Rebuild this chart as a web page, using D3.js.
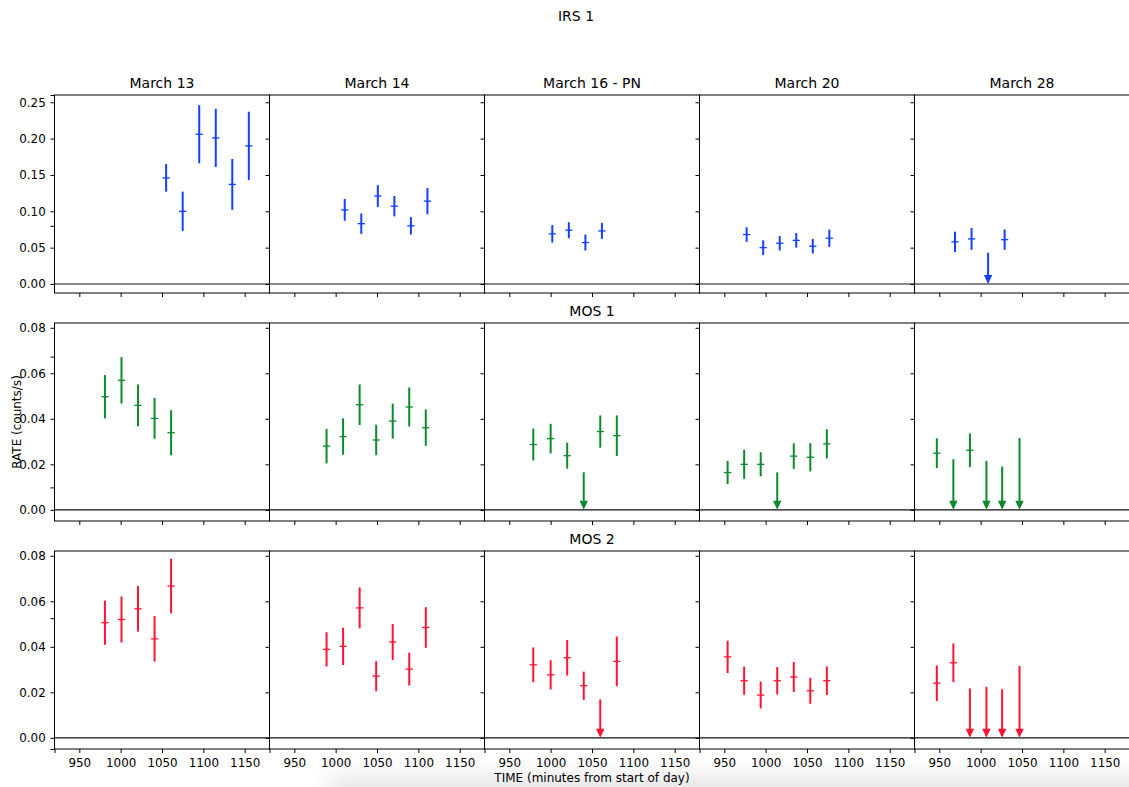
<!DOCTYPE html>
<html>
<head>
<meta charset="utf-8">
<script src="https://cdn.jsdelivr.net/npm/d3@7"></script>
<style>
  body { margin: 0; background: #fff; }
  svg text { font-family: "DejaVu Sans", sans-serif; fill: #000; }
</style>
</head>
<body>
<svg id="chart" width="1129" height="787"></svg>
<script>
// Observation dates (columns) and instruments (rows)
const dates = ["March 13", "March 14", "March 16 - PN", "March 20", "March 28"];
const instruments = ["IRS 1", "MOS 1", "MOS 2"];
const instrumentColors = ["#1440ff", "#0c8a2c", "#ff1436"];

// Axis ticks
const timeTicks = [950, 1000, 1050, 1100, 1150];
const pnRateTicks = [0, 0.05, 0.10, 0.15, 0.20, 0.25];
const mosRateTicks = [0, 0.02, 0.04, 0.06, 0.08];
const timeDomain = [920, 1180];
const pnRateDomain = [-0.0124, 0.2600];
const mosRateDomain = [-0.0049, 0.0821];
const timeHalfWidth = 4.4; // minutes, horizontal bar half-length

// EPIC-pn light curve (counts/s), one array per date
const pnTime = [
  [1055, 1075, 1095, 1115, 1135, 1155],
  [1011, 1031, 1051, 1071, 1091, 1111],
  [1002, 1022, 1042, 1062],
  [977, 997, 1017, 1037, 1057, 1077],
  [969, 989, 1029]
];
const pnRate = [
  [0.146, 0.100, 0.206, 0.201, 0.137, 0.190],
  [0.102, 0.083, 0.121, 0.107, 0.080, 0.114],
  [0.069, 0.074, 0.057, 0.073],
  [0.068, 0.050, 0.056, 0.060, 0.052, 0.063],
  [0.058, 0.062, 0.061]
];
const pnErr = [
  [0.019, 0.027, 0.040, 0.040, 0.035, 0.047],
  [0.015, 0.014, 0.015, 0.014, 0.012, 0.018],
  [0.012, 0.011, 0.011, 0.011],
  [0.010, 0.010, 0.010, 0.010, 0.010, 0.012],
  [0.014, 0.015, 0.014]
];
const pnUlTime = [[], [], [], [], [1009]];
const pnUlRate = [[], [], [], [], [0.043]];

// MOS 1 light curve
const mos1Time = [
  [981, 1001, 1021, 1041, 1061],
  [989, 1009, 1029, 1049, 1069, 1089, 1109],
  [979, 1000, 1020, 1060, 1080],
  [954, 974, 994, 1034, 1054, 1074],
  [947, 987]
];
const mos1Rate = [
  [0.0497, 0.0569, 0.0459, 0.0402, 0.0339],
  [0.0280, 0.0322, 0.0462, 0.0307, 0.0390, 0.0452, 0.0361],
  [0.0287, 0.0313, 0.0238, 0.0344, 0.0326],
  [0.0164, 0.0200, 0.0200, 0.0236, 0.0231, 0.0290],
  [0.0249, 0.0262]
];
const mos1Err = [
  [0.0095, 0.0102, 0.0092, 0.0090, 0.0099],
  [0.0076, 0.0080, 0.0089, 0.0067, 0.0077, 0.0086, 0.0080],
  [0.0070, 0.0065, 0.0057, 0.0071, 0.0089],
  [0.0051, 0.0064, 0.0053, 0.0056, 0.0062, 0.0064],
  [0.0065, 0.0074]
];
const mos1UlTime = [[], [], [1040], [1014], [967, 1007, 1026, 1047]];
const mos1UlRate = [[], [], [0.0165], [0.0165], [0.0222, 0.0215, 0.0190, 0.0316]];

// MOS 2 light curve
const mos2Time = [
  [981, 1001, 1021, 1041, 1061],
  [989, 1009, 1029, 1049, 1069, 1089, 1109],
  [979, 1000, 1020, 1040, 1080],
  [954, 974, 994, 1014, 1034, 1054, 1074],
  [947, 967]
];
const mos2Rate = [
  [0.0506, 0.0520, 0.0567, 0.0435, 0.0667],
  [0.0389, 0.0402, 0.0571, 0.0271, 0.0421, 0.0302, 0.0485],
  [0.0321, 0.0277, 0.0352, 0.0229, 0.0336],
  [0.0356, 0.0251, 0.0188, 0.0251, 0.0267, 0.0207, 0.0251],
  [0.0240, 0.0330]
];
const mos2Err = [
  [0.0097, 0.0101, 0.0100, 0.0100, 0.0120],
  [0.0075, 0.0082, 0.0090, 0.0066, 0.0079, 0.0072, 0.0089],
  [0.0076, 0.0064, 0.0078, 0.0062, 0.0109],
  [0.0071, 0.0062, 0.0059, 0.0060, 0.0066, 0.0057, 0.0063],
  [0.0078, 0.0085]
];
const mos2UlTime = [[], [], [1060], [], [987, 1007, 1026, 1047]];
const mos2UlRate = [[], [], [0.0169], [], [0.0217, 0.0224, 0.0214, 0.0316]];

// ---- layout ----
const W = 1129, H = 787;
const left0 = 54.5, panelW = 215;
const top0 = 95, rowStep = 228, panelH = 198;

const rows = [
  { time: pnTime, rate: pnRate, err: pnErr, ulTime: pnUlTime, ulRate: pnUlRate, domain: pnRateDomain, ticks: pnRateTicks },
  { time: mos1Time, rate: mos1Rate, err: mos1Err, ulTime: mos1UlTime, ulRate: mos1UlRate, domain: mosRateDomain, ticks: mosRateTicks },
  { time: mos2Time, rate: mos2Rate, err: mos2Err, ulTime: mos2UlTime, ulRate: mos2UlRate, domain: mosRateDomain, ticks: mosRateTicks }
];

const svg = d3.select("#chart");

// soft grey shading along the lower edge
const defs = svg.append("defs");
const blur = defs.append("filter").attr("id", "soft")
  .attr("x", "-30%").attr("y", "-200%").attr("width", "160%").attr("height", "500%");
blur.append("feGaussianBlur").attr("stdDeviation", 12);
svg.append("rect").attr("x", 330).attr("y", 778).attr("width", 860).attr("height", 30)
  .attr("fill", "#e2e2e2").attr("filter", "url(#soft)");

const x = d3.scaleLinear().domain(timeDomain).range([0, panelW]);

// Figure-level frame ticks (shared label axes)
const bigX = d3.scaleLinear().domain([0, 1]).range([left0, left0 + panelW * 5]);
const bigY = d3.scaleLinear().domain([0, 1]).range([top0 + 2 * rowStep + panelH, top0]);
const bigTicks = [0, 0.2, 0.4, 0.6, 0.8, 1.0];
svg.append("g").attr("transform", `translate(0,${top0 + 2 * rowStep + panelH})`)
  .call(d3.axisBottom(bigX).tickValues(bigTicks).tickSize(4).tickFormat(""))
  .call(g => g.select(".domain").remove())
  .call(g => g.selectAll("line").attr("stroke", "#000").attr("stroke-width", 1));
svg.append("g").attr("transform", `translate(${left0},0)`)
  .call(d3.axisLeft(bigY).tickValues(bigTicks).tickSize(4).tickFormat(""))
  .call(g => g.select(".domain").remove())
  .call(g => g.selectAll("line").attr("stroke", "#000").attr("stroke-width", 1));

rows.forEach((row, r) => {
  const y = d3.scaleLinear().domain(row.domain).range([panelH, 0]);
  const color = instrumentColors[r];

  dates.forEach((date, c) => {
    const g = svg.append("g")
      .attr("transform", `translate(${left0 + c * panelW},${top0 + r * rowStep})`);

    // y axis
    g.append("g")
      .call(d3.axisLeft(y).tickValues(row.ticks).tickSize(4).tickPadding(4.8)
        .tickFormat(c === 0 ? d3.format(".2f") : ""))
      .call(a => a.select(".domain").remove())
      .call(a => a.selectAll("line").attr("stroke", "#000"))
      .call(a => a.selectAll("text").attr("font-size", "11.9px").attr("font-family", "DejaVu Sans"));

    // x axis
    g.append("g").attr("transform", `translate(0,${panelH})`)
      .call(d3.axisBottom(x).tickValues(timeTicks).tickSize(4).tickPadding(5.3)
        .tickFormat(r === 2 ? d3.format("d") : ""))
      .call(a => a.select(".domain").remove())
      .call(a => a.selectAll("line").attr("stroke", "#000"))
      .call(a => a.selectAll("text").attr("font-size", "11.9px").attr("font-family", "DejaVu Sans"));

    // zero line
    g.append("line").attr("x1", 0).attr("x2", panelW)
      .attr("y1", y(0)).attr("y2", y(0))
      .attr("stroke", "#111").attr("stroke-width", 1.2);

    // detections with error bars
    const pts = row.time[c].map((t, i) => ({ t, v: row.rate[c][i], e: row.err[c][i] }));
    const eb = g.append("g");
    eb.selectAll("line.v").data(pts).join("line").attr("class", "v")
      .attr("x1", d => x(d.t)).attr("x2", d => x(d.t))
      .attr("y1", d => y(d.v - d.e)).attr("y2", d => y(d.v + d.e))
      .attr("stroke", color).attr("stroke-width", 2);
    eb.selectAll("line.h").data(pts).join("line").attr("class", "h")
      .attr("x1", d => x(d.t - timeHalfWidth)).attr("x2", d => x(d.t + timeHalfWidth))
      .attr("y1", d => y(d.v)).attr("y2", d => y(d.v))
      .attr("stroke", color).attr("stroke-width", 1.3);

    // upper limits: arrow from the limit down to zero
    const uls = row.ulTime[c].map((t, i) => ({ t, v: row.ulRate[c][i] }));
    const headH = 9, headW = 8.4;
    eb.selectAll("line.ul").data(uls).join("line").attr("class", "ul")
      .attr("x1", d => x(d.t)).attr("x2", d => x(d.t))
      .attr("y1", d => y(d.v)).attr("y2", y(0) - headH + 1)
      .attr("stroke", color).attr("stroke-width", 2);
    eb.selectAll("path.head").data(uls).join("path").attr("class", "head")
      .attr("d", d => {
        const cx = x(d.t), ty = y(0);
        return `M${cx - headW / 2},${ty - headH}L${cx + headW / 2},${ty - headH}L${cx},${ty}Z`;
      })
      .attr("fill", color);

    // frame
    g.append("rect").attr("x", 0).attr("y", 0).attr("width", panelW).attr("height", panelH)
      .attr("fill", "none").attr("stroke", "#000").attr("stroke-width", 1);

    // column titles on top row, instrument titles on the middle column
    if (r === 0) {
      g.append("text").attr("x", panelW / 2).attr("y", -6.6)
        .attr("text-anchor", "middle").attr("font-size", "14px").text(date);
    } else if (c === 2) {
      g.append("text").attr("x", panelW / 2).attr("y", -6.6)
        .attr("text-anchor", "middle").attr("font-size", "14px").text(instruments[r]);
    }
  });
});

// figure title and shared axis labels
svg.append("text").attr("x", 576).attr("y", 20.5).attr("text-anchor", "middle")
  .attr("font-size", "14px").text(instruments[0]);
svg.append("text").attr("x", bigX(0.5)).attr("y", 781.5).attr("text-anchor", "middle")
  .attr("font-size", "12px").text("TIME (minutes from start of day)");
svg.append("text").attr("transform", `translate(20.7,${bigY(0.5)}) rotate(-90)`)
  .attr("text-anchor", "middle").attr("font-size", "12px").text("RATE (counts/s)");
</script>
</body>
</html>
